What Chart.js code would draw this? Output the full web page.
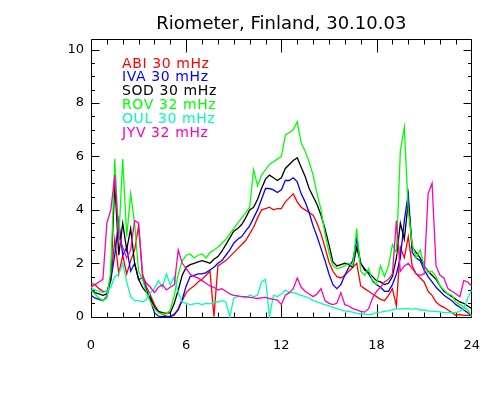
<!DOCTYPE html>
<html>
<head>
<meta charset="utf-8">
<title>Riometer, Finland, 30.10.03</title>
<script src="https://cdn.jsdelivr.net/npm/chart.js@4.4.1/dist/chart.umd.min.js"></script>
<style>
  html, body { margin: 0; padding: 0; background: #fff; }
  #wrap { width: 500px; height: 399px; }
</style>
</head>
<body>
<div id="wrap"><canvas id="chart"></canvas></div>
<script>
'use strict';

const chartTitle = 'Riometer, Finland, 30.10.03';
const stations = ['ABI 30 mHz', 'IVA 30 mHz', 'SOD 30 mHz', 'ROV 32 mHz', 'OUL 30 mHz', 'JYV 32 mHz'];
const stationColors = ['#ff0000', '#0000ff', '#000000', '#00ff00', '#00ffb4', '#ff00b4'];
const xTickLabels = [0, 6, 12, 18, 24];
const yTickLabels = [0, 2, 4, 6, 8, 10];

// absorption (dB), one reading every 15 min from 00 to 24 UT
const abi = [
  1.25, 1.2, 1.05, 0.95,  0.95, 1.35, 2.9, 1.6,  2.3, 1.6, 2.1, 2.5,  3.4, 1.6, 1.1, 0.8,
  0.45, 0.2, 0.08, 0.02,  0.0, 0.05, 0.3, 0.6,  0.9, 1.05, 1.15, 1.3,  1.4, 1.55, 1.7, 0.0,
  1.9, 2.0, 2.1, 2.25,  2.4, 2.55, 2.7, 2.85,  3.1, 3.35, 3.7, 4.0,  4.05, 4.1, 4.0, 4.05,
  4.05, 4.3, 4.45, 4.6,  4.3, 4.1, 4.0, 3.9,  3.8, 3.5, 3.1, 2.6,  2.05, 1.7, 1.5, 1.45,
  1.55, 1.7, 1.85, 2.0,  1.15, 1.05, 0.95, 0.85,  0.75, 0.65, 0.6, 0.8,  1.05, 0.4, 2.6, 2.2,
  3.0, 1.9, 1.6, 1.45,  1.3, 0.95, 0.8, 0.55,  0.42, 0.35, 0.25, 0.15,  0.05, 0.08, 0.05, 0.05,
  0.05
];
const iva = [
  0.8, 0.7, 0.65, 0.6,  0.75, 1.4, 2.3, 3.6,  2.3, 2.6, 1.7, 2.0,  1.4, 1.45, 1.0, 0.6,
  0.15, 0.02, 0.0, 0.0,  0.0, 0.1, 0.25, 0.65,  1.15, 1.5, 1.55, 1.6,  1.6, 1.65, 1.75, 1.85,
  2.0, 2.1, 2.3, 2.5,  2.75, 2.9, 3.0, 3.2,  3.4, 3.7, 4.0, 4.4,  4.8, 4.8, 4.75, 4.65,
  4.75, 5.1, 5.1, 5.2,  5.05, 4.6, 4.3, 3.9,  3.4, 3.0, 2.55, 2.1,  1.6, 1.2, 1.05, 1.2,
  1.55, 1.85, 2.1, 2.9,  2.0, 1.8, 1.6, 1.35,  1.2, 1.1, 0.95, 0.95,  1.2, 1.6, 2.2, 3.6,
  4.6, 2.4, 2.2, 2.1,  1.75, 1.5, 1.3, 1.1,  0.95, 0.8, 0.7, 0.6,  0.45, 0.35, 0.25, 0.15,
  0.0
];
const sod = [
  1.0, 0.9, 0.85, 0.8,  0.85, 1.5, 5.0, 2.3,  3.5, 2.5, 3.3, 2.0,  1.4, 1.1, 0.9, 0.7,
  0.35, 0.2, 0.15, 0.12,  0.15, 0.5, 1.0, 1.55,  1.85, 1.95, 2.0, 2.05,  2.1, 2.05, 2.0, 2.15,
  2.25, 2.45, 2.7, 2.95,  3.2, 3.3, 3.45, 3.7,  4.0, 4.1, 4.4, 4.8,  5.15, 5.3, 5.2, 5.1,
  5.2, 5.55, 5.7, 5.85,  5.95, 5.6, 5.25, 4.8,  4.5, 4.2, 3.8, 3.3,  2.7, 2.05, 1.9, 1.95,
  2.0, 1.95, 1.85, 2.6,  2.0, 1.75, 1.65, 1.5,  1.35, 1.3, 1.2, 1.25,  1.5, 2.2, 3.5, 2.9,
  4.3, 2.6, 2.4, 2.2,  1.9, 1.7, 1.55, 1.4,  1.15, 0.95, 0.85, 0.75,  0.65, 0.55, 0.5, 0.4,
  0.3
];
const rov = [
  1.0, 0.85, 0.7, 0.6,  0.7, 1.7, 5.9, 2.9,  5.9, 3.0, 4.6, 3.5,  1.7, 1.4, 0.9, 0.55,
  0.3, 0.15, 0.1, 0.1,  0.25, 0.8, 1.6, 2.1,  2.3, 2.35, 2.2, 2.3,  2.35, 2.2, 2.4, 2.5,
  2.6, 2.75, 2.9, 3.1,  3.3, 3.5, 3.7, 3.9,  4.1, 5.5, 4.9, 5.3,  5.5, 5.7, 5.8, 5.9,
  6.0, 6.8, 6.9, 7.0,  7.3, 6.5, 6.2, 5.8,  5.3, 4.6, 4.0, 3.1,  2.4, 1.9, 1.8, 1.85,
  1.9, 2.0, 1.9, 3.3,  1.7, 1.55, 1.8, 1.3,  1.2, 1.9, 1.5, 1.9,  2.7, 2.4, 6.2, 7.1,
  4.0, 2.7, 2.2, 2.5,  1.9, 1.65, 1.7, 1.5,  1.15, 1.0, 0.85, 0.8,  0.55, 0.45, 0.35, 0.25,
  0.0
];
const oul = [
  1.1, 1.0, 0.95, 0.9,  0.95, 1.1, 1.5, 1.6,  2.0, 1.3, 0.75, 0.6,  0.6, 0.55, 0.65, 0.9,
  1.05, 1.35, 1.1, 1.6,  1.2, 1.5, 0.9, 0.55,  0.5, 0.45, 0.48, 0.5,  0.45, 0.5, 0.48, 0.55,
  0.55, 0.6, 0.55, 0.0,  0.7, 0.75, 0.75, 0.7,  0.8, 0.75, 0.8, 1.3,  1.4, 0.0, 0.8, 0.75,
  0.85, 1.0, 0.9, 0.9,  0.85, 0.8, 0.75, 0.7,  0.6, 0.55, 0.5, 0.45,  0.4, 0.35, 0.3, 0.25,
  0.22, 0.2, 0.17, 0.12,  0.1, 0.1, 0.08, 0.1,  0.15, 0.17, 0.2, 0.22,  0.25, 0.3, 0.28, 0.3,
  0.3, 0.28, 0.3, 0.25,  0.25, 0.22, 0.2, 0.2,  0.18, 0.15, 0.15, 0.15,  0.15, 0.2, 0.3, 0.7,
  1.0
];
const jyv = [
  1.1, 1.2, 1.3, 1.4,  3.5, 4.0, 5.3, 3.0,  2.6, 2.2, 2.5, 3.6,  3.5, 1.5, 1.25, 1.1,
  0.9, 1.1, 1.2, 1.0,  1.1, 1.2, 2.5, 2.0,  1.8, 1.6, 1.5, 1.45,  1.35, 1.25, 1.15, 1.1,
  1.0, 1.05, 0.95, 0.85,  0.8, 0.78, 0.75, 0.75,  0.72, 0.7, 0.68, 0.7,  0.72, 0.68, 0.65, 0.62,
  0.45, 0.8, 0.9, 1.05,  1.45, 1.1, 0.95, 0.85,  0.75, 0.85, 1.05, 0.6,  0.5, 0.45, 0.5, 0.9,
  0.45, 0.4, 0.3, 0.25,  0.2, 0.17, 0.3, 0.7,  0.95, 1.1, 1.3, 1.4,  1.6, 3.6, 1.7, 1.9,
  2.0, 1.8, 1.6, 1.55,  1.6, 4.6, 5.0, 1.9,  1.55, 1.45, 1.05, 0.95,  0.85, 0.75, 1.35, 1.3,
  1.15
];

const series = [abi, iva, sod, rov, oul, jyv];
const hours = [];
for (let i = 0; i < abi.length; i++) {
  hours.push(i / 4);
}

// frame with inward ticks, title and text legend, IDL style
const idlFrame = {
  id: 'idlFrame',
  beforeDatasetsDraw(chart) {
    const { ctx, chartArea: a, scales: { x, y } } = chart;
    const L = Math.round(a.left) + 0.5, R = Math.round(a.right) - 0.5;
    const T = Math.round(a.top) + 0.5, B = Math.round(a.bottom) - 0.5;
    ctx.save();
    ctx.strokeStyle = '#000';
    ctx.lineWidth = 1;
    ctx.beginPath();
    ctx.rect(L, T, R - L, B - T);
    for (let h = 0; h <= 24; h++) {
      let px = Math.round(x.getPixelForValue(h)) + 0.5;
      px = Math.min(Math.max(px, L), R);
      const len = h % 6 === 0 ? 13 : 5;
      ctx.moveTo(px, B); ctx.lineTo(px, B - len);
      ctx.moveTo(px, T); ctx.lineTo(px, T + len);
    }
    for (let v = 0; v <= 10; v += 0.5) {
      const py = Math.round(y.getPixelForValue(v)) + 0.5;
      const len = v % 2 === 0 ? 8 : 3.5;
      ctx.moveTo(L, py); ctx.lineTo(L + len, py);
      ctx.moveTo(R, py); ctx.lineTo(R - len, py);
    }
    ctx.stroke();
    ctx.restore();
  },
  afterDraw(chart) {
    const { ctx, chartArea: a } = chart;
    ctx.save();
    ctx.fillStyle = '#000';
    ctx.font = '18px "DejaVu Sans"';
    ctx.textAlign = 'center';
    ctx.textBaseline = 'alphabetic';
    ctx.fillText(chartTitle, (a.left + a.right) / 2, 28.5);
    ctx.font = '14px "DejaVu Sans"';
    ctx.textAlign = 'left';
    ctx.letterSpacing = '0.6px';
    chart.data.datasets.forEach((ds, i) => {
      ctx.fillStyle = ds.borderColor;
      ctx.fillText(ds.label, 122, 67.5 + i * 13.8);
    });
    ctx.restore();
  }
};

const datasets = series.map((vals, i) => ({
  label: stations[i],
  data: vals.map((v, j) => ({ x: hours[j], y: v })),
  borderColor: stationColors[i],
  borderWidth: 1.3,
  pointRadius: 0,
  tension: 0,
  fill: false,
  order: series.length - i
}));

Chart.defaults.font.family = '"DejaVu Sans", sans-serif';
Chart.defaults.color = '#000';

new Chart(document.getElementById('chart'), {
  type: 'line',
  data: { datasets: datasets },
  options: {
    responsive: true,
    maintainAspectRatio: false,
    animation: false,
    layout: { padding: { top: 39, right: 27, left: 0, bottom: 0 } },
    plugins: {
      legend: { display: false },
      title: { display: false },
      tooltip: { enabled: false }
    },
    scales: {
      x: {
        type: 'linear',
        min: 0,
        max: 24,
        grid: { display: false, drawTicks: false },
        border: { display: false },
        ticks: { padding: 20, font: { size: 13 }, maxRotation: 0 },
        afterBuildTicks: (s) => { s.ticks = xTickLabels.map(v => ({ value: v })); },
        afterFit: (s) => { s.height = 81; }
      },
      y: {
        min: -0.05,
        max: 10.4,
        grid: { display: false, drawTicks: false },
        border: { display: false },
        ticks: { padding: 7, font: { size: 13 } },
        afterBuildTicks: (s) => { s.ticks = yTickLabels.map(v => ({ value: v })); },
        afterFit: (s) => { s.width = 91; }
      }
    }
  },
  plugins: [idlFrame]
});
</script>
</body>
</html>
